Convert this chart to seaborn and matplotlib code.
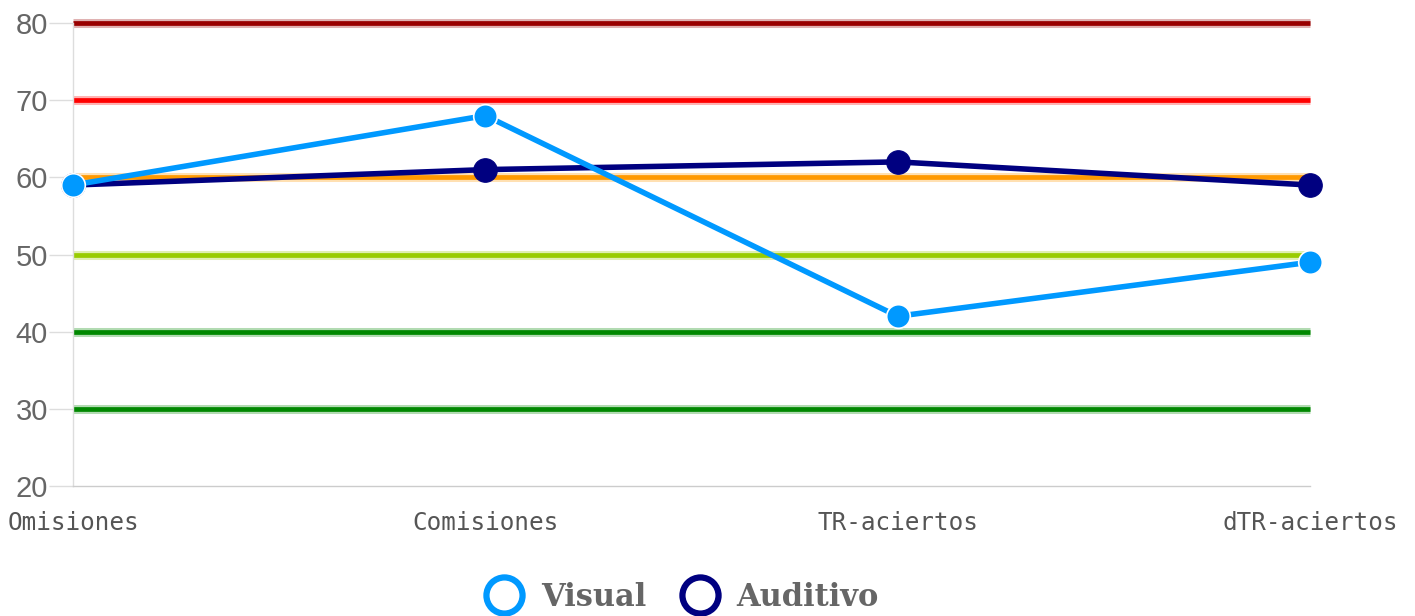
import numpy as np
import pandas as pd
import matplotlib
matplotlib.use("Agg")
import matplotlib.pyplot as plt
from matplotlib.lines import Line2D
import seaborn as sns

## Data
categories = ["Omisiones", "Comisiones", "TR-aciertos", "dTR-aciertos"]
visual = [59, 68, 42, 49]
auditivo = [59, 61, 62, 59]

## Reference levels and their colours
levels = [80, 70, 60, 50, 40, 30]
level_colors = ["#990000", "#ff0000", "#ff9900", "#99cc00", "#008800", "#008800"]

series_names = ["Visual", "Auditivo"]
series_colors = ["#0099ff", "#000080"]

df = pd.DataFrame({
    "prueba": categories * 2,
    "valor": visual + auditivo,
    "serie": ["Visual"] * 4 + ["Auditivo"] * 4,
})
df["pos"] = df["prueba"].map({c: i for i, c in enumerate(categories)})

sns.set_style("white")
fig = plt.figure(figsize=(14.15, 6.16), dpi=100)
ax = fig.add_axes([0.0516, 0.211, 0.8742, 0.7517])

for lv, col in zip(levels, level_colors):
    ax.axhline(lv, color=col, lw=6.5, alpha=0.3, zorder=1, clip_on=False, solid_capstyle="butt")
    ax.axhline(lv, color=col, lw=3.4, zorder=2, clip_on=False, solid_capstyle="butt")

# draw auditivo first so visual sits on top
sns.lineplot(data=df[df.serie == "Auditivo"], x="pos", y="valor", color=series_colors[1],
             lw=4, marker="o", markersize=17, markeredgecolor=series_colors[1],
             ax=ax, zorder=3, legend=False, clip_on=False)
sns.lineplot(data=df[df.serie == "Visual"], x="pos", y="valor", color=series_colors[0],
             lw=4, marker="o", markersize=17, markeredgecolor="white", markeredgewidth=1.2,
             ax=ax, zorder=4, legend=False, clip_on=False)

ax.set_xlim(0, 3)
ax.set_ylim(20, 80)
ax.set_yticks([20, 30, 40, 50, 60, 70, 80])
ax.set_xticks(range(len(categories)))
ax.set_xticklabels(categories, family="DejaVu Sans Mono", fontsize=17.5, color="#555555")
ax.set_xlabel("")
ax.set_ylabel("")
ax.tick_params(axis="y", labelsize=21, labelcolor="#666666", length=17, width=1,
               color="#dddddd", left=True, pad=1)
ax.tick_params(axis="x", length=0, pad=18)
for lbl in ax.get_yticklabels():
    lbl.set_family(["Liberation Sans", "DejaVu Sans"])

for side in ["top", "right"]:
    ax.spines[side].set_visible(False)
ax.spines["left"].set_color("#dddddd")
ax.spines["bottom"].set_color("#cccccc")
ax.spines["left"].set_linewidth(1)
ax.spines["bottom"].set_linewidth(1)

handles = [Line2D([], [], ls="none", marker="o", markersize=26, markerfacecolor="white",
                  markeredgecolor=c, markeredgewidth=4.5) for c in series_colors]
leg = fig.legend(handles, series_names, loc="center", bbox_to_anchor=(0.478, 0.03),
                 ncol=2, frameon=False, handletextpad=0.2, columnspacing=0.75,
                 prop={"family": "DejaVu Serif", "weight": "bold", "size": 22})
for t in leg.get_texts():
    t.set_color("#666666")

fig.savefig("out.png", dpi=100)
